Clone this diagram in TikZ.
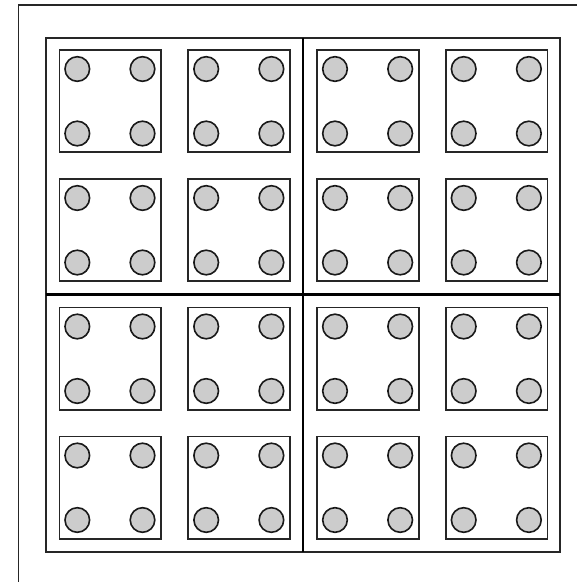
\documentclass[tikz,border=0pt]{standalone}
\begin{document}
\begin{tikzpicture}[x=1pt,y=-1pt,
  frame/.style={draw=black!85,line width=1.8pt},
  divider/.style={draw=black,line width=2.8pt},
  cell/.style={draw=black!85,line width=1.6pt},
  pin/.style={draw=black!90,fill=black!20,line width=1.6pt}]
\useasboundingbox (0,0) rectangle (577,582);
\fill[white] (0,0) rectangle (577,582);
% outer border (only top and left visible)
\draw[frame] (18.5,590) -- (18.5,5) -- (590,5);
% inner frame
\draw[frame] (45.7,37.7) rectangle (560,551.7);
% dividers
\draw[divider] (303,37.7) -- (303,551.7);
\draw[divider] (45.7,294.5) -- (560,294.5);
% cells
\foreach \x in {59.3,188.2,317,445.7}{
  \foreach \y in {50,179,307.5,436.5}{
    \draw[cell] (\x,\y) rectangle ++(101.7,102.2);
    \foreach \dx in {18,83.2}{
      \foreach \dy in {19,83.5}{
        \draw[pin] (\x+\dx,\y+\dy) circle (12.3);
      }
    }
  }
}
\end{tikzpicture}
\end{document}
